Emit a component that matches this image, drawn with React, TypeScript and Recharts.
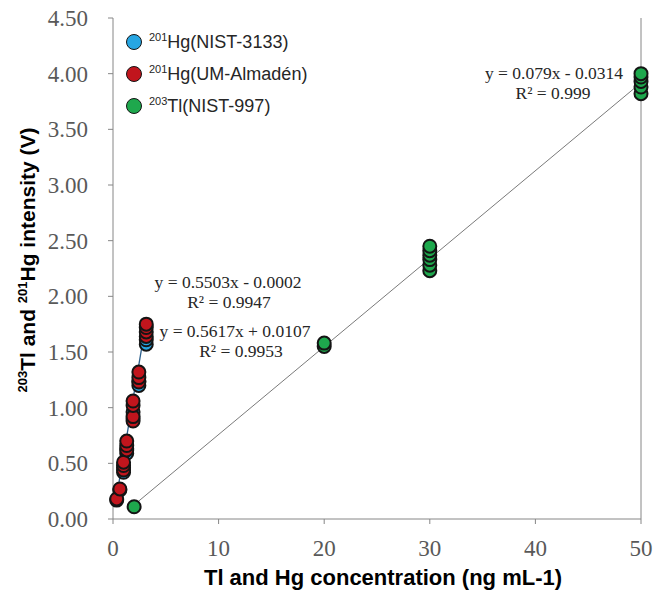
import { ScatterChart, Scatter, XAxis, YAxis, ReferenceLine } from "recharts";

// axis ticks
const xTicks = [0, 10, 20, 30, 40, 50];
const yTicks = [0, 0.5, 1, 1.5, 2, 2.5, 3, 3.5, 4, 4.5];

// 201Hg (NIST-3133)
const nistHgX = [0.35, 0.65, 1.0, 1.0, 1.3, 1.3, 1.9, 1.9, 2.45, 2.45, 3.15, 3.15];
const nistHgY = [0.17, 0.26, 0.42, 0.46, 0.59, 0.63, 0.9, 0.96, 1.2, 1.24, 1.57, 1.61];

// 201Hg (UM-Almadén)
const almadenX = [0.35, 0.65, 1.0, 1.0, 1.0, 1.3, 1.3, 1.3, 1.9, 1.9, 1.9, 1.9, 2.45, 2.45, 2.45, 3.15, 3.15, 3.15, 3.15];
const almadenY = [0.18, 0.27, 0.44, 0.48, 0.51, 0.62, 0.66, 0.7, 0.88, 0.92, 1.02, 1.06, 1.23, 1.27, 1.32, 1.64, 1.68, 1.72, 1.75];

// 203Tl (NIST-997)
const tlX = [2, 20, 20, 30, 30, 30, 30, 30, 30, 50, 50, 50, 50, 50];
const tlY = [0.11, 1.55, 1.58, 2.23, 2.28, 2.33, 2.37, 2.41, 2.45, 3.82, 3.88, 3.93, 3.97, 4.0];

// trend lines as given on the chart
const hgFitRange = [0.35, 3.15];
const hgFit = { slope: 0.5617, intercept: 0.0107 };
const tlFitRange = [2, 50];
const tlFit = { slope: 0.079, intercept: -0.0314 };

const toPoints = (xs: number[], ys: number[]) => xs.map((x, i) => ({ x, y: ys[i] }));
const fitSegment = (range: number[], f: { slope: number; intercept: number }) =>
  range.map((x) => ({ x, y: f.slope * x + f.intercept }));

const BLUE = "#27a6e3";
const RED = "#c1151d";
const GREEN = "#1ea84d";
const AXIS = "#868686";
const TICK = "#595959";

const makeDot = (fill: string) => (props: any) => (
  <circle cx={props.cx} cy={props.cy} r={6.5} fill={fill} stroke="#141414" strokeWidth={2} />
);

const sans = "'Liberation Sans', Arial, sans-serif";
const serif = "'Liberation Serif', 'Times New Roman', serif";

const legendItems = [
  { iso: "201", name: "Hg(NIST-3133)", color: BLUE },
  { iso: "201", name: "Hg(UM-Almadén)", color: RED },
  { iso: "203", name: "Tl(NIST-997)", color: GREEN },
];

const notes = [
  { text: "y = 0.5503x - 0.0002", x: 228, y: 282 },
  { text: "R² = 0.9947", x: 229, y: 302 },
  { text: "y = 0.5617x + 0.0107", x: 235, y: 331 },
  { text: "R² = 0.9953", x: 241, y: 351 },
  { text: "y = 0.079x - 0.0314", x: 554, y: 73 },
  { text: "R² = 0.999", x: 553, y: 93 },
];

export default function App() {
  return (
    <div style={{ position: "absolute", left: 0, top: 0, width: 657, height: 597, background: "#fff" }}>
      <ScatterChart width={657} height={597} margin={{ top: 18, right: 16, bottom: 0, left: 0 }}>
        <XAxis
          type="number"
          dataKey="x"
          domain={[0, 50]}
          ticks={xTicks}
          height={78}
          stroke={AXIS}
          tickSize={5}
          tickMargin={16}
          tick={{ fill: TICK, fontSize: 23, fontFamily: serif }}
        />
        <YAxis
          type="number"
          dataKey="y"
          domain={[0, 4.5]}
          ticks={yTicks}
          width={113}
          stroke={AXIS}
          tickSize={5}
          tickMargin={20}
          tickFormatter={(v: number) => v.toFixed(2)}
          tick={{ fill: TICK, fontSize: 23, fontFamily: serif }}
        />
        <ReferenceLine x={50} stroke={AXIS} />
        <ReferenceLine segment={fitSegment(tlFitRange, tlFit)} stroke="#7a7a7a" strokeWidth={1} />
        <ReferenceLine segment={fitSegment(hgFitRange, hgFit)} stroke="#2b5f8c" strokeWidth={1.3} />
        <Scatter data={toPoints(nistHgX, nistHgY)} fill={BLUE} shape={makeDot(BLUE)} isAnimationActive={false} />
        <Scatter data={toPoints(almadenX, almadenY)} fill={RED} shape={makeDot(RED)} isAnimationActive={false} />
        <Scatter data={toPoints(tlX, tlY)} fill={GREEN} shape={makeDot(GREEN)} isAnimationActive={false} />
      </ScatterChart>

      {/* legend */}
      {legendItems.map((it, i) => (
        <div
          key={it.name}
          style={{
            position: "absolute",
            left: 126,
            top: 33 + i * 32,
            height: 18,
            display: "flex",
            alignItems: "center",
            fontFamily: sans,
            fontSize: 18,
            color: "#262626",
            whiteSpace: "nowrap",
          }}
        >
          <span
            style={{
              width: 14,
              height: 14,
              borderRadius: "50%",
              background: it.color,
              border: "1.8px solid #141414",
              marginRight: 7,
            }}
          />
          <span style={{ fontSize: 11, position: "relative", top: -5 }}>{it.iso}</span>
          <span>{it.name}</span>
        </div>
      ))}

      {/* regression notes */}
      {notes.map((n) => (
        <div
          key={n.text + n.y}
          style={{
            position: "absolute",
            left: n.x,
            top: n.y,
            transform: "translate(-50%, -50%)",
            fontFamily: serif,
            fontSize: 17.5,
            lineHeight: "15px",
            color: "#262626",
            whiteSpace: "nowrap",
          }}
        >
          {n.text}
        </div>
      ))}

      {/* axis titles */}
      <div
        style={{
          position: "absolute",
          left: 383,
          top: 578,
          transform: "translate(-50%, -50%)",
          fontFamily: sans,
          fontWeight: "bold",
          fontSize: 22,
          color: "#000",
          whiteSpace: "nowrap",
        }}
      >
        Tl and Hg concentration (ng mL-1)
      </div>
      <div
        style={{
          position: "absolute",
          left: 27,
          top: 260,
          transform: "translate(-50%, -50%) rotate(-90deg)",
          fontFamily: sans,
          fontWeight: "bold",
          fontSize: 21,
          color: "#000",
          whiteSpace: "nowrap",
        }}
      >
        <sup style={{ fontSize: 13 }}>203</sup>Tl and <sup style={{ fontSize: 13 }}>201</sup>Hg intensity (V)
      </div>
    </div>
  );
}
